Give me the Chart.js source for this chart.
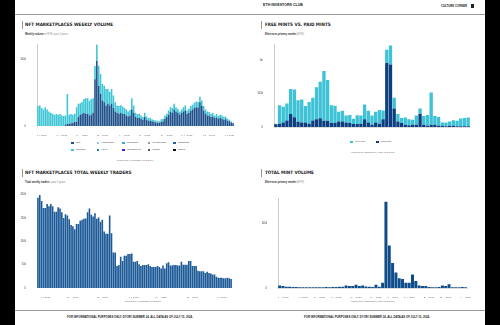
<!DOCTYPE html>
<html>
<head>
<meta charset="utf-8">
<script src="https://cdn.jsdelivr.net/npm/chart.js@4.4.1/dist/chart.umd.min.js"></script>
<style>
html, body { margin: 0; padding: 0; width: 500px; height: 325px; overflow: hidden; background: #000; font-family: "Liberation Sans", Arial, sans-serif; }
#page { position: absolute; left: 15px; top: 0; width: 470px; height: 325px; background: #fff; }
.txt { position: absolute; white-space: nowrap; line-height: 1; transform: translateY(-50%); color: #222; }
.ctr { transform: translate(-50%, -50%); }
.title { font-family: "DejaVu Sans Condensed", "DejaVu Sans", sans-serif; font-weight: bold; font-size: 4.6px; color: #222; }
.sub { font-size: 2.6px; font-weight: bold; color: #333; }
.sub span { font-weight: normal; color: #888; }
.powered { font-size: 2.4px; color: #666; }
.bar { position: absolute; width: 1px; height: 8px; background: #999; }
.hline { position: absolute; left: 15px; width: 470px; height: 1px; background: #999; }
.box { position: absolute; }
.legend { position: absolute; font-size: 2.4px; color: #333; }
.legend i { position: absolute; width: 2.5px; height: 2.5px; }
.legend b { position: absolute; font-weight: normal; white-space: nowrap; line-height: 1; }
</style>
</head>
<body>
<div id="page"></div>

<!-- header / footer -->
<div class="txt ctr" style="left:283px; top:6px; font-size:3.6px; font-weight:bold;">ETH INVESTORS CLUB</div>
<div class="txt" style="left:441px; top:6px; font-size:2.8px; font-weight:bold;">CULTURE CORNER</div>
<div class="box" style="left:471px; top:4px; width:3px; height:4px; background:#222;"></div>
<div class="hline" style="top:14px;"></div>
<div class="hline" style="top:310px;"></div>
<div class="txt ctr" style="left:130px; top:317px; font-size:2.8px; font-weight:bold;">FOR INFORMATIONAL PURPOSES ONLY. DYOR/ SUMMER 24. ALL DATA AS OF JULY 15, 2024.</div>
<div class="txt ctr" style="left:367px; top:317px; font-size:2.8px; font-weight:bold;">FOR INFORMATIONAL PURPOSES ONLY. DYOR/ SUMMER 24. ALL DATA AS OF JULY 15, 2024.</div>

<!-- chart titles -->
<div class="bar" style="left:22px; top:21px;"></div>
<div class="txt title" style="left:25px; top:25px;">NFT MARKETPLACES WEEKLY VOLUME</div>
<div class="txt sub" style="left:25px; top:35px;">Weekly volume <span>in ETH, past 2 years</span></div>
<div class="bar" style="left:261px; top:21px;"></div>
<div class="txt title" style="left:265px; top:25px;">FREE MINTS VS. PAID MINTS</div>
<div class="txt sub" style="left:265px; top:35px;">Ethereum primary market <span>(ETH)</span></div>
<div class="bar" style="left:22px; top:169px;"></div>
<div class="txt title" style="left:25px; top:173px;">NFT MARKETPLACES TOTAL WEEKLY TRADERS</div>
<div class="txt sub" style="left:25px; top:183px;">Total weekly traders<span>, past 2 years</span></div>
<div class="bar" style="left:261px; top:169px;"></div>
<div class="txt title" style="left:265px; top:173px;">TOTAL MINT VOLUME</div>
<div class="txt sub" style="left:265px; top:183px;">Ethereum primary market <span>(ETH)</span></div>

<div class="box" style="left:20px; top:40px; width:218px; height:96px;"><canvas id="volume-chart"></canvas></div>
<div class="box" style="left:255px; top:40px; width:218px; height:96px;"><canvas id="mints-chart"></canvas></div>
<div class="box" style="left:20px; top:190px; width:218px; height:108px;"><canvas id="traders-chart"></canvas></div>
<div class="box" style="left:255px; top:190px; width:218px; height:108px;"><canvas id="mintvol-chart"></canvas></div>

<div id="volume-legend" class="legend" style="left:0; top:0;"></div>
<div id="mints-legend" class="legend" style="left:0; top:0;"></div>

<div class="txt ctr powered" style="left:135px; top:161px;">Powered by @hildobby on <span style="color:#d33">&#9679;</span> Dune</div>
<div class="txt ctr powered" style="left:373px; top:153px;">Powered by dataalways_team on <span style="color:#d33">&#9679;</span> Dune</div>
<div class="txt ctr powered" style="left:143px; top:302px;">Powered by @hildobby on <span style="color:#d33">&#9679;</span> Dune</div>
<div class="txt ctr powered" style="left:373px; top:302px;">Powered by dataalways_team on <span style="color:#d33">&#9679;</span> Dune</div>

<script>
// ---- data (values in thousands) ----

// Weekly marketplace volume, K ETH
const blurVolume = [0,0,0,0,0,0,0,0,0,0,0,0,0,0,0,10,15,15,20,25,30,30,67,84,92,99,89,92,79,87,99,351,488,302,240,191,178,153,166,153,166,134,109,99,92,99,92,89,79,72,79,124,99,67,59,59,54,47,67,47,40,40,35,30,27,25,25,30,35,54,67,84,104,99,124,109,99,84,97,109,116,89,99,114,124,134,141,139,178,149,114,92,79,79,67,72,59,64,54,59,54,47,50,40,35,27,20];
const openseaVolume = [149,153,134,124,141,124,109,99,92,84,89,84,89,79,74,69,225,69,69,59,62,111,99,87,87,104,119,116,111,116,109,99,124,149,149,124,124,124,111,104,111,94,69,54,57,57,54,45,45,37,40,84,54,32,30,32,25,20,32,25,20,22,15,15,15,15,10,20,20,25,25,32,37,35,42,32,30,25,27,32,37,27,30,35,35,40,42,40,42,42,35,32,30,25,25,25,20,25,20,25,25,22,20,15,12,7,5];
const volumeTicks = [[2, 'Jul 2022'], [13, 'Oct 2022'], [24, 'Dec 2022'], [35, 'Mar 2023'], [47, 'Jun 2023'], [58, 'Sep 2023'], [70, 'Nov 2023'], [81, 'Feb 2024'], [93, 'May 2024'], [104, 'Jul 2024']];
const volumeYTicks = [0, 500];
const volumeYLabels = ['0', '500k'];
const marketplaces = ['Blur', 'Magic Eden', 'LooksRare', 'CryptoPunks', 'Sudoswap', 'Opensea', 'X2Y2', 'Opensea Pro', 'Rarible', 'Others'];
const marketplaceColors = ['#1d4f8a', '#9cc0ea', '#3aa6e6', '#9a9a9a', '#1b62a8', '#3ec5d6', '#178a98', '#2a2ae0', '#555555', '#111111'];

// Free vs paid mints, K
const paidMints = [40,49,69,98,196,147,78,69,69,49,98,118,132,93,93,59,64,83,83,69,59,44,44,49,118,69,34,69,49,118,965,941,279,83,59,34,25,34,34,196,34,20,34,34,20,20,10,20,20,10,10,10,10];
const freeMints = [10,279,235,255,377,417,324,343,245,328,343,480,549,750,613,269,255,147,162,103,122,79,132,123,220,176,138,161,206,132,196,284,162,113,78,108,93,74,138,83,133,161,485,133,132,49,59,63,83,83,117,127,132];
const mintTicks = [[1, 'Jun 2023'], [8, 'Aug 2023'], [13, 'Oct 2023'], [19, 'Nov 2023'], [25, 'Dec 2023'], [31, 'Feb 2024'], [37, 'Mar 2024'], [42, 'Apr 2024'], [48, 'Jun 2024']];
const mintYTicks = [0, 500, 1000];
const mintYLabels = ['0', '500k', '1m'];

// Total weekly traders, K
const weeklyTraders = [193,199,186,171,171,180,175,180,175,163,163,173,170,162,150,158,155,147,135,132,126,137,137,144,146,148,149,162,170,157,153,160,148,151,142,146,121,116,116,155,117,76,76,47,49,67,58,69,69,73,73,74,56,56,58,51,47,49,49,49,51,47,45,45,45,47,45,42,48,42,53,55,48,48,49,49,48,48,56,50,50,50,58,58,47,47,47,37,36,36,36,32,35,32,31,29,29,24,22,22,22,21,21,22,21,19];
const traderTicks = [[4, 'Jul 2022'], [19, 'Nov 2022'], [35, 'Mar 2023'], [52, 'Jul 2023'], [67, 'Nov 2023'], [84, 'Mar 2024'], [100, 'Jul 2024']];
const traderYTicks = [0, 50, 100, 150, 200];
const traderYLabels = ['0', '50k', '100k', '150k', '200k'];

// Total mint volume, K
const mintVolume = [4,3,2,2,1.5,1.5,1,1,1,1,1,1,1,1,1.5,1,1.5,1.5,2,2,4,3,3,5,3,4,2.5,2,1.5,5,2,8,134,66,39,24,15,14,8,8,21,11,4,3,3,1.5,1,1,1.5,4,3,6,1,1,1,1.5,1];
const mintVolTicks = [[1, 'Jun 2023'], [7, 'Jul 2023'], [12, 'Sep 2023'], [17, 'Oct 2023'], [23, 'Nov 2023'], [29, 'Dec 2023'], [34, 'Jan 2024'], [39, 'Feb 2024'], [45, 'Apr 2024'], [50, 'May 2024'], [56, 'Jun 2024']];
const mintVolYTicks = [0, 100];
const mintVolYLabels = ['0', '100k'];

// Build category labels: blank except where a tick label sits
function buildLabels(count, ticks) {
    const labels = new Array(count).fill('');
    ticks.forEach(([i, text]) => { labels[i] = text; });
    return labels;
}

function barOptions(cfg) {
    return {
        responsive: true,
        maintainAspectRatio: false,
        animation: false,
        layout: { padding: { top: cfg.padTop, right: cfg.padRight, left: 0, bottom: 0 } },
        plugins: { legend: { display: false }, tooltip: { enabled: false } },
        scales: {
            x: {
                stacked: true,
                grid: { display: false },
                border: { display: cfg.xBorder, color: '#ddd' },
                ticks: {
                    autoSkip: false, maxRotation: 0, minRotation: 0, padding: 2,
                    color: '#444', font: { size: 2.6, family: 'Liberation Sans' }
                },
                afterFit: scale => { scale.height = cfg.xHeight; }
            },
            y: {
                stacked: true,
                min: 0,
                max: cfg.yMax,
                grid: { display: false },
                border: { display: cfg.yBorder, color: '#ccc', width: 1 },
                afterBuildTicks: scale => { scale.ticks = cfg.yTicks.map(v => ({ value: v })); },
                ticks: {
                    padding: 3, color: '#444', font: { size: 2.6, family: 'Liberation Sans' },
                    callback: value => cfg.yLabels[cfg.yTicks.indexOf(value)]
                },
                afterFit: scale => { scale.width = cfg.yWidth; }
            }
        }
    };
}

// HTML legend laid out in fixed columns
function drawLegend(id, names, colors, left, top, colGap, rowGap, perRow) {
    const el = document.getElementById(id);
    names.forEach((name, i) => {
        const x = left + (i % perRow) * colGap;
        const y = top + Math.floor(i / perRow) * rowGap;
        const box = document.createElement('i');
        box.style.left = x + 'px';
        box.style.top = (y - 1.25) + 'px';
        box.style.background = colors[i];
        const label = document.createElement('b');
        label.style.left = (x + 5) + 'px';
        label.style.top = (y - 1.2) + 'px';
        label.textContent = name;
        el.appendChild(box);
        el.appendChild(label);
    });
}

document.addEventListener('DOMContentLoaded', () => {
    // Weekly volume (stacked)
    const volumeDatasets = [
        { label: 'Blur', data: blurVolume, backgroundColor: marketplaceColors[0] },
        { label: 'Opensea', data: openseaVolume, backgroundColor: marketplaceColors[5] }
    ];
    volumeDatasets.forEach(d => { d.barPercentage = 0.85; d.categoryPercentage = 1; });
    new Chart(document.getElementById('volume-chart'), {
        type: 'bar',
        data: { labels: buildLabels(blurVolume.length, volumeTicks), datasets: volumeDatasets },
        options: barOptions({ padTop: 3, padRight: 4, xHeight: 10, yWidth: 17, yMax: 610, yTicks: volumeYTicks, yLabels: volumeYLabels, xBorder: false, yBorder: true })
    });

    // Free vs paid mints
    new Chart(document.getElementById('mints-chart'), {
        type: 'bar',
        data: {
            labels: buildLabels(paidMints.length, mintTicks),
            datasets: [
                { label: 'Paid Mint', data: paidMints, backgroundColor: '#0d3f80', barPercentage: 0.9, categoryPercentage: 1 },
                { label: 'Free Mint', data: freeMints, backgroundColor: '#3ec2d6', barPercentage: 0.9, categoryPercentage: 1 }
            ]
        },
        options: barOptions({ padTop: 2, padRight: 3, xHeight: 9, yWidth: 19, yMax: 1240, yTicks: mintYTicks, yLabels: mintYLabels, xBorder: true, yBorder: true })
    });

    // Total weekly traders
    new Chart(document.getElementById('traders-chart'), {
        type: 'bar',
        data: {
            labels: buildLabels(weeklyTraders.length, traderTicks),
            datasets: [{ label: 'Traders', data: weeklyTraders, backgroundColor: '#1d5a98', barPercentage: 0.88, categoryPercentage: 1 }]
        },
        options: barOptions({ padTop: 4, padRight: 6, xHeight: 10, yWidth: 17, yMax: 200, yTicks: traderYTicks, yLabels: traderYLabels, xBorder: false, yBorder: false })
    });

    // Total mint volume
    new Chart(document.getElementById('mintvol-chart'), {
        type: 'bar',
        data: {
            labels: buildLabels(mintVolume.length, mintVolTicks),
            datasets: [{ label: 'Mint volume', data: mintVolume, backgroundColor: '#0f4c8a', barPercentage: 0.9, categoryPercentage: 1 }]
        },
        options: barOptions({ padTop: 8, padRight: 3, xHeight: 10, yWidth: 23, yMax: 140, yTicks: mintVolYTicks, yLabels: mintVolYLabels, xBorder: true, yBorder: true })
    });

    drawLegend('volume-legend', marketplaces, marketplaceColors, 71, 143, 25.5, 7, 5);
    drawLegend('mints-legend', ['Free Mint', 'Paid Mint'], ['#3ec2d6', '#0d3f80'], 350, 142, 26, 0, 2);
});
</script>
</body>
</html>
